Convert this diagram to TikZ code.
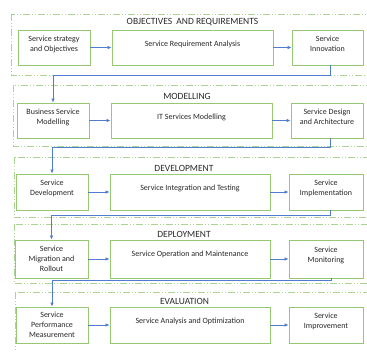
\documentclass[tikz,border=0pt]{standalone}
\usepackage{fontspec}
\setmainfont{Carlito}
\usetikzlibrary{arrows.meta}
\definecolor{boxgreen}{RGB}{150,200,115}
\definecolor{secgreen}{RGB}{170,212,145}
\definecolor{connblue}{RGB}{80,125,205}
\definecolor{txt}{RGB}{40,40,40}
\begin{document}
\begin{tikzpicture}[x=1pt,y=-1pt,
  stepbox/.style={draw=boxgreen,line width=0.9pt,fill=white,align=center,
    inner sep=1pt,font=\fontsize{8}{10}\selectfont,text=txt},
  up/.style={text depth=8pt},
  sect/.style={draw=secgreen,line width=0.9pt,
    dash pattern=on 7pt off 2pt on 1pt off 2pt on 1pt off 2pt},
  sectitle/.style={font=\fontsize{9.5}{11}\selectfont,text=txt,inner sep=0pt},
  conn/.style={draw=connblue,line width=0.8pt,-{Latex[length=4pt,width=3.6pt]}}]
\useasboundingbox (0,0) rectangle (367,351);
% sections
\draw[sect] (11,14) rectangle (372,75);
\draw[sect] (13,85) rectangle (372,146);
\draw[sect] (14,157) rectangle (372,217);
\draw[sect] (14,224) rectangle (372,283);
\draw[sect] (15,292) rectangle (372,360);
% titles
\node[sectitle] (t1) at (192.5,22) {OBJECTIVES\ \ AND REQUIREMENTS};
\node[sectitle] (t2) at (187,96) {MODELLING};
\node[sectitle] (t3) at (184,168) {DEVELOPMENT};
\node[sectitle] (t4) at (184,234) {DEPLOYMENT};
\node[sectitle] (t5) at (184.5,301) {EVALUATION};
% row 1
\node[stepbox,up,minimum width=72pt,minimum height=35pt] (a1) at (54,47.5) {Service strategy\\and Objectives};
\node[stepbox,up,minimum width=161pt,minimum height=35pt] (b1) at (192.5,47.5) {Service Requirement Analysis};
\node[stepbox,up,minimum width=71pt,minimum height=35pt] (c1) at (327.5,47.5) {Service\\Innovation};
% row 2
\node[stepbox,up,minimum width=72pt,minimum height=35pt] (a2) at (53,120.5) {Business Service\\Modelling};
\node[stepbox,up,minimum width=161pt,minimum height=35pt] (b2) at (191.5,120.5) {IT Services Modelling};
\node[stepbox,up,minimum width=72pt,minimum height=35pt] (c2) at (327,120.5) {Service Design\\and Architecture};
% row 3
\node[stepbox,up,minimum width=72pt,minimum height=36pt] (a3) at (52,192) {Service\\Development};
\node[stepbox,up,minimum width=160pt,minimum height=36pt] (b3) at (190,192) {Service Integration and Testing};
\node[stepbox,up,minimum width=74pt,minimum height=36pt] (c3) at (326,192) {Service\\Implementation};
% row 4
\node[stepbox,minimum width=73pt,minimum height=38pt] (a4) at (51.5,259) {Service\\Migration and\\Rollout};
\node[stepbox,text depth=10pt,minimum width=160pt,minimum height=38pt] (b4) at (190,259) {Service Operation and Maintenance};
\node[stepbox,up,minimum width=74pt,minimum height=38pt] (c4) at (326,259) {Service\\Monitoring};
% row 5
\node[stepbox,minimum width=72pt,minimum height=36pt] (a5) at (52,325) {Service\\Performance\\Measurement};
\node[stepbox,up,minimum width=160pt,minimum height=36pt] (b5) at (190,325) {Service Analysis and Optimization};
\node[stepbox,up,minimum width=74pt,minimum height=36pt] (c5) at (326,325) {Service\\Improvement};
% horizontal arrows
\foreach \r in {1,...,5}{
  \draw[conn] (a\r) -- (b\r);
  \draw[conn] (b\r) -- (c\r);
}
% connectors between sections
\coordinate (j1) at (0,75.5);
\coordinate (j2) at (0,147);
\coordinate (j3) at (0,215);
\coordinate (j4) at (0,280);
\draw[conn] ([xshift=3pt]c1.south) -- ([xshift=3pt]c1.south |- j1) -| (a2.north);
\draw[conn] ([xshift=3pt]c2.south) -- ([xshift=3pt]c2.south |- j2) -| (a3.north);
\draw[conn] ([xshift=4pt]c3.south) -- ([xshift=4pt]c3.south |- j3) -| (a4.north);
\draw[conn] ([xshift=5pt]c4.south) -- ([xshift=5pt]c4.south |- j4) -| (a5.north);
\end{tikzpicture}
\end{document}
